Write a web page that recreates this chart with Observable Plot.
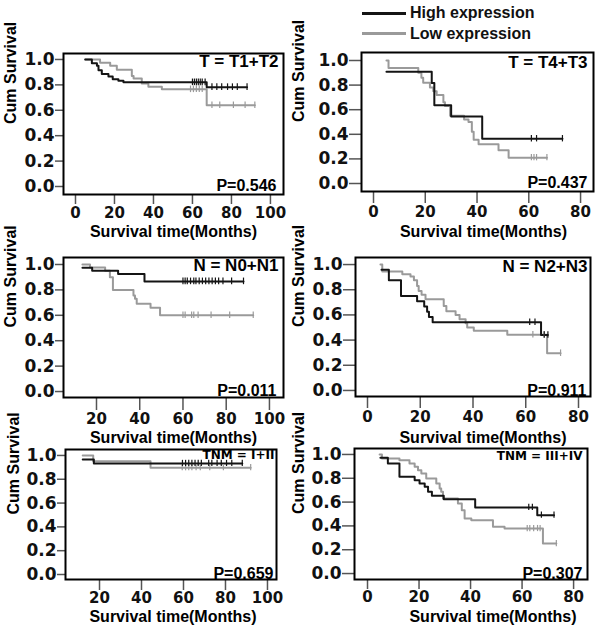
<!DOCTYPE html>
<html>
<head>
<meta charset="utf-8">
<script src="https://cdn.jsdelivr.net/npm/d3@7"></script>
<script src="https://cdn.jsdelivr.net/npm/@observablehq/plot@0.6"></script>
<style>
  body { margin: 0; background: #fff; }
  #wrap { position: relative; width: 600px; height: 629px; overflow: hidden; background: #fff; }
  .leg { position: absolute; left: 362px; font-family: "Liberation Sans", Arial, sans-serif; font-weight: bold; font-size: 16px; color: #111; display: flex; align-items: center; height: 20px; line-height: 20px; white-space: nowrap; }
  .leg span.sw { display: inline-block; width: 44px; height: 3px; margin-right: 4px; }
</style>
</head>
<body>
<div id="wrap"></div>
<script>
// ---------- shared labels / ticks ----------
const yTickValues = [0, 0.2, 0.4, 0.6, 0.8, 1.0];
const xTicksTo100 = [0, 20, 40, 60, 80, 100];
const xTicksTo80 = [0, 20, 40, 60, 80];
const xTicks20to100 = [20, 40, 60, 80, 100];
const seriesNames = ["Low expression", "High expression"];
const seriesColors = ["#9a9a9a", "#141414"];
const legendOrder = ["High expression", "Low expression"];
const panelTitles = ["T = T1+T2", "T = T4+T3", "N = N0+N1", "N = N2+N3", "TNM = I+II", "TNM = III+IV"];
const pLabels = ["P=0.546", "P=0.437", "P=0.011", "P=0.911", "P=0.659", "P=0.307"];
const xTitle = "Survival time(Months)";
const yTitle = "Cum Survival";

// ---------- Panel 1: T = T1+T2 ----------
const p1HighTime = [5, 8.4, 11, 11.8, 13.5, 16.9, 19.1, 22, 24.6, 67.3];
const p1HighSurv = [1.0, 0.97, 0.95, 0.915, 0.885, 0.865, 0.845, 0.833, 0.82, 0.782];
const p1HighEnd = 88;
const p1HighCens = [60, 61, 62, 63, 64, 65, 66.5, 70, 72.5, 75, 78, 80.5, 83, 88];
const p1LowTime = [5, 12.6, 17.8, 21.2, 28.9, 29.8, 34, 37.4, 44.3, 67.3];
const p1LowSurv = [1.0, 0.975, 0.95, 0.92, 0.87, 0.85, 0.81, 0.785, 0.765, 0.64];
const p1LowEnd = 92;
const p1LowCens = [59, 60.5, 62, 63.5, 65, 70, 74, 81, 87, 92];

// ---------- Panel 2: T = T4+T3 ----------
const p2HighTime = [5, 22.5, 23.5, 30, 42];
const p2HighSurv = [0.909, 0.818, 0.636, 0.545, 0.364];
const p2HighEnd = 73;
const p2HighCens = [61, 63, 73];
const p2LowTime = [5, 5.8, 17.3, 18.5, 19.2, 21.8, 23.1, 24.4, 27, 27.6, 29.6, 35, 36.7, 38, 38.7, 40.6, 48.3, 52.2];
const p2LowSurv = [1.0, 0.94, 0.90, 0.86, 0.82, 0.78, 0.75, 0.72, 0.66, 0.63, 0.55, 0.52, 0.50, 0.42, 0.355, 0.32, 0.27, 0.21];
const p2LowEnd = 67;
const p2LowCens = [61, 62, 63, 67];

// ---------- Panel 3: N = N0+N1 ----------
const p3HighTime = [13.5, 18, 30, 42.2];
const p3HighSurv = [0.975, 0.95, 0.925, 0.867];
const p3HighEnd = 88;
const p3HighCens = [60, 61, 62, 63.5, 65, 66, 67.5, 69, 70.5, 72, 73.5, 75, 76.5, 78.5, 82.5, 88];
const p3LowTime = [13.5, 17, 24, 26.2, 27.6, 37.1, 37.8, 38.6, 45, 49.4];
const p3LowSurv = [1.0, 0.976, 0.95, 0.90, 0.80, 0.755, 0.73, 0.69, 0.66, 0.60];
const p3LowEnd = 92.5;
const p3LowCens = [60, 61, 64, 65, 67, 73, 81.6, 92.5];

// ---------- Panel 4: N = N2+N3 ----------
const p4HighTime = [5.3, 8.1, 12.7, 18.8, 21.5, 22.6, 23.3, 24.7, 65.8];
const p4HighSurv = [0.958, 0.875, 0.75, 0.708, 0.667, 0.625, 0.583, 0.542, 0.44];
const p4HighEnd = 68.4;
const p4HighCens = [61.5, 63.5, 67, 68.4];
const p4LowTime = [4.9, 5.6, 13.2, 16.3, 17.6, 18.8, 19.4, 20.5, 22, 28.9, 29.9, 33.4, 34.9, 37.2, 37.8, 40.3, 53, 68.1];
const p4LowSurv = [1.0, 0.944, 0.923, 0.905, 0.875, 0.83, 0.79, 0.76, 0.725, 0.67, 0.63, 0.60, 0.566, 0.534, 0.50, 0.474, 0.442, 0.296];
const p4LowEnd = 73.2;
const p4LowCens = [62.7, 67, 73.2];

// ---------- Panel 5: TNM = I+II ----------
const p5HighTime = [12, 17.3];
const p5HighSurv = [0.966, 0.933];
const p5HighEnd = 88;
const p5HighCens = [59.5, 61, 62.5, 64, 65.5, 67, 68.5, 72, 73.5, 76, 78, 80.5, 83, 88];
const p5LowTime = [12, 17, 44.3];
const p5LowSurv = [1.0, 0.952, 0.897];
const p5LowEnd = 92;
const p5LowCens = [59.4, 61, 62.5, 64, 66, 68, 72.5, 79, 92];

// ---------- Panel 6: TNM = III+IV ----------
const p6HighTime = [5, 7.9, 12.4, 18.3, 20.2, 22.2, 23.5, 25, 29.6, 41.8, 65.9];
const p6HighSurv = [0.972, 0.924, 0.812, 0.784, 0.756, 0.728, 0.686, 0.653, 0.624, 0.555, 0.49];
const p6HighEnd = 72.4;
const p6HighCens = [62.6, 64, 67.5, 72.4];
const p6LowTime = [4.7, 5.6, 12.4, 16.3, 18.3, 19.6, 20.9, 22.8, 26.7, 28, 28.6, 29.3, 35.1, 36.6, 37.7, 40.3, 48.7, 53.2, 68.1];
const p6LowSurv = [1.0, 0.966, 0.952, 0.924, 0.896, 0.868, 0.84, 0.798, 0.756, 0.714, 0.686, 0.63, 0.588, 0.532, 0.462, 0.448, 0.392, 0.378, 0.252];
const p6LowEnd = 73.3;
const p6LowCens = [62, 63, 64.5, 66, 67, 73.3];

// ---------- helpers ----------
function series(name, time, surv, end, cens) {
  const pts = time.map((t, i) => ({series: name, t, s: surv[i]}));
  pts.push({series: name, t: end, s: surv[surv.length - 1]});
  const at = c => { let s = surv[0]; time.forEach((t, i) => { if (t <= c) s = surv[i]; }); return s; };
  const marks = cens.map(c => ({series: name, t: c, s: at(c)}));
  return {pts, marks};
}

const panelData = [
  [series(seriesNames[0], p1LowTime, p1LowSurv, p1LowEnd, p1LowCens), series(seriesNames[1], p1HighTime, p1HighSurv, p1HighEnd, p1HighCens)],
  [series(seriesNames[0], p2LowTime, p2LowSurv, p2LowEnd, p2LowCens), series(seriesNames[1], p2HighTime, p2HighSurv, p2HighEnd, p2HighCens)],
  [series(seriesNames[0], p3LowTime, p3LowSurv, p3LowEnd, p3LowCens), series(seriesNames[1], p3HighTime, p3HighSurv, p3HighEnd, p3HighCens)],
  [series(seriesNames[0], p4LowTime, p4LowSurv, p4LowEnd, p4LowCens), series(seriesNames[1], p4HighTime, p4HighSurv, p4HighEnd, p4HighCens)],
  [series(seriesNames[0], p5LowTime, p5LowSurv, p5LowEnd, p5LowCens), series(seriesNames[1], p5HighTime, p5HighSurv, p5HighEnd, p5HighCens)],
  [series(seriesNames[0], p6LowTime, p6LowSurv, p6LowEnd, p6LowCens), series(seriesNames[1], p6HighTime, p6HighSurv, p6HighEnd, p6HighCens)]
];

// ---------- layout (positions only) ----------
const LIB = "Liberation Sans, Arial, sans-serif";
const DJV = "DejaVu Sans, sans-serif";
const layout = [
  {left: 0,   top: 40,  w: 292, h: 200, ml: 63, mr: 9,  mt: 13, mb: 46, xd: [-6.15, 106.7], yd: [-0.063, 1.047], xt: xTicksTo100,   yTick: 8,  xTick: 9,  xPad: 3, tDx: -5, tDy: 1, tFam: LIB, tSize: 17, pDx: -7, pDy: -3.5, xtDx: 0,  xtDy: 37.5, ytDx: -52.5},
  {left: 285, top: 40,  w: 315, h: 200, ml: 76, mr: 7,  mt: 12, mb: 49, xd: [-4.64, 85.0],  yd: [-0.065, 1.065], xt: xTicksTo80,    yTick: 12, xTick: 11, xPad: 3, tDx: -6, tDy: 3, tFam: LIB, tSize: 17, pDx: -6, pDy: -4,   xtDx: 6,  xtDy: 40.5, ytDx: -63},
  {left: 0,   top: 240, w: 292, h: 205, ml: 63, mr: 9,  mt: 17, mb: 48, xd: [4.74, 106.5],  yd: [-0.047, 1.055], xt: xTicks20to100, yTick: 8,  xTick: 12, xPad: 3, tDx: -5, tDy: 1, tFam: LIB, tSize: 17, pDx: -7, pDy: -2,   xtDx: 0,  xtDy: 40,   ytDx: -53},
  {left: 285, top: 240, w: 315, h: 205, ml: 70, mr: 10, mt: 17, mb: 49, xd: [-4.55, 84.55], yd: [-0.048, 1.056], xt: xTicksTo80,    yTick: 12, xTick: 11, xPad: 3, tDx: -3, tDy: 2, tFam: LIB, tSize: 17, pDx: -4, pDy: -1,   xtDx: 10, xtDy: 41,   ytDx: -57},
  {left: 0,   top: 445, w: 292, h: 184, ml: 65, mr: 16, mt: 4,  mb: 50, xd: [3.8, 104.3],   yd: [-0.042, 1.05],  xt: xTicks20to100, yTick: 8,  xTick: 10, xPad: 2, tDx: -2, tDy: 1, tFam: DJV, tSize: 12, pDx: -3, pDy: -1,   xtDx: 2,  xtDy: 37.5, ytDx: -51.5},
  {left: 285, top: 445, w: 315, h: 184, ml: 69, mr: 13, mt: 3,  mb: 50, xd: [-5.05, 85.4],  yd: [-0.05, 1.05],   xt: xTicksTo80,    yTick: 12, xTick: 9,  xPad: 2, tDx: -5, tDy: 3, tFam: DJV, tSize: 12, pDx: -5, pDy: -1,   xtDx: 22, xtDy: 37.5, ytDx: -56}
];

const wrap = document.getElementById("wrap");

layout.forEach((L, i) => {
  const data = panelData[i];
  const linePts = data.flatMap(d => d.pts);
  const censPts = data.flatMap(d => d.marks);
  const chart = Plot.plot({
    width: L.w,
    height: L.h,
    marginLeft: L.ml,
    marginRight: L.mr,
    marginTop: L.mt,
    marginBottom: L.mb,
    style: {background: "transparent", fontFamily: DJV, fontWeight: "bold", fontSize: "15px", color: "#111", overflow: "visible"},
    x: {domain: L.xd, label: null},
    y: {domain: L.yd, label: null},
    color: {domain: seriesNames, range: seriesColors},
    marks: [
      Plot.axisY({ticks: yTickValues, tickFormat: d3.format(".1f"), tickSize: L.yTick, tickPadding: 1, fontSize: 17, fontFamily: DJV, fontWeight: "bold", stroke: "#555", strokeWidth: 1.5, label: null}),
      Plot.axisX({ticks: L.xt, tickFormat: d3.format("d"), tickSize: L.xTick, tickPadding: L.xPad, dy: 1, fontSize: 15, fontFamily: DJV, fontWeight: "bold", stroke: "#555", strokeWidth: 1.5, label: null}),
      Plot.line(linePts, {x: "t", y: "s", z: "series", stroke: "series", curve: "step-after", strokeWidth: 2}),
      Plot.ruleX(censPts, {x: "t", y1: d => d.s - 0.026, y2: d => d.s + 0.026, stroke: "series", strokeWidth: 1.2}),
      Plot.frame({stroke: "#000", strokeWidth: 2}),
      Plot.text([panelTitles[i]], {text: d => d, frameAnchor: "top-right", textAnchor: "end", lineAnchor: "top", dx: L.tDx, dy: L.tDy, fontFamily: L.tFam, fontSize: L.tSize, fontWeight: "bold", fill: "#000"}),
      Plot.text([pLabels[i]], {text: d => d, frameAnchor: "bottom-right", textAnchor: "end", lineAnchor: "bottom", dx: L.pDx, dy: L.pDy, fontFamily: LIB, fontSize: 16, fontWeight: "bold", fill: "#000"}),
      Plot.text([xTitle], {text: d => d, frameAnchor: "bottom", lineAnchor: "middle", dx: L.xtDx, dy: L.xtDy, fontFamily: LIB, fontSize: 16, fontWeight: "bold", fill: "#000"}),
      Plot.text([yTitle], {text: d => d, frameAnchor: "left", rotate: -90, lineAnchor: "middle", dx: L.ytDx, fontFamily: LIB, fontSize: 16, fontWeight: "bold", fill: "#000"})
    ]
  });
  chart.style.position = "absolute";
  chart.style.left = L.left + "px";
  chart.style.top = L.top + "px";
  wrap.appendChild(chart);
});

// ---------- legend (HTML, above the right-hand panels) ----------
const legendTops = [3, 23.5];
legendOrder.forEach((name, k) => {
  const row = document.createElement("div");
  row.className = "leg";
  row.style.top = legendTops[k] + "px";
  const sw = document.createElement("span");
  sw.className = "sw";
  sw.style.background = seriesColors[seriesNames.indexOf(name)];
  row.appendChild(sw);
  row.appendChild(document.createTextNode(name));
  wrap.appendChild(row);
});
</script>
</body>
</html>
